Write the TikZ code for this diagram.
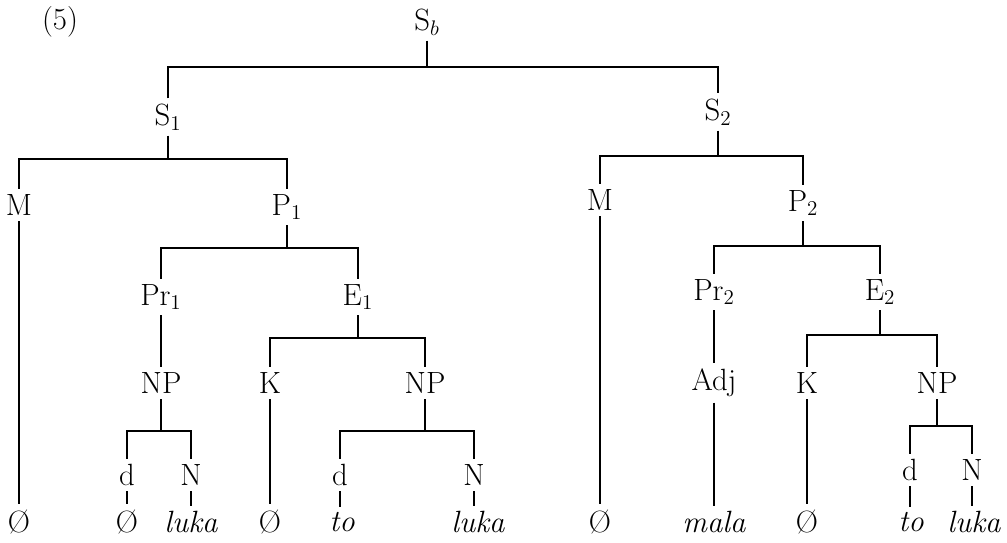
\documentclass[tikz,border=0pt]{standalone}
\usepackage{tikz}
\usetikzlibrary{positioning,calc}
\tikzset{
  cat/.style={inner sep=3pt,font=\fontsize{17.5}{20}\selectfont},
  word/.style={cat,font=\fontsize{17.5}{20}\selectfont\itshape},
  br/.style={line width=0.7pt}
}

\begin{document}
\begin{tikzpicture}[x=0.02cm,y=-0.02cm]
\useasboundingbox (0,0) rectangle (1007,542);
\node[cat] (num) at (60,22) {(5)};
% upper part
\node[cat] (Sb) at (427,22) {S$_b$};
\node[cat] (S1) at (168,117) {S$_1$};
\node[cat] (S2) at (718,112) {S$_2$};
\node[cat] (M1) at (19,205) {M};
\node[cat] (P1) at (287,207) {P$_1$};
\node[cat] (M2) at (600,200) {M};
\node[cat] (P2) at (803,203) {P$_2$};
\node[cat] (Pr1) at (161,297) {Pr$_1$};
\node[cat] (E1) at (358,297) {E$_1$};
\node[cat] (Pr2) at (714,292) {Pr$_2$};
\node[cat] (E2) at (880,292) {E$_2$};
% middle part
\node[cat] (NPa) at (161,383) {NP};
\node[cat] (K1) at (270,383) {K};
\node[cat] (NPb) at (425,383) {NP};
\node[cat] (Adj) at (714,383) {Adj};
\node[cat] (K2) at (807,383) {K};
\node[cat] (NPc) at (937,383) {NP};
\node[cat] (da) at (127,475) {d};
\node[cat] (Na) at (191,475) {N};
\node[cat] (db) at (340,475) {d};
\node[cat] (Nb) at (474,475) {N};
\node[cat] (dc) at (910,470) {d};
\node[cat] (Nc) at (972,470) {N};
% leaves
\node[cat] (z1) at (19,522) {Ø};
\node[cat] (z2) at (127,522) {Ø};
\node[word] (w1) at (191,522) {luka};
\node[cat] (z3) at (270,522) {Ø};
\node[word] (w2) at (342,522) {to};
\node[word] (w3) at (478,522) {luka};
\node[cat] (z4) at (600,522) {Ø};
\node[word] (w4) at (714,522) {mala};
\node[cat] (z5) at (807,522) {Ø};
\node[word] (w5) at (911,522) {to};
\node[word] (w6) at (974,522) {luka};

\coordinate (jSb) at (427,67);
\coordinate (jS1) at (168,159);
\coordinate (jS2) at (718,156);
\coordinate (jP1) at (287,248);
\coordinate (jP2) at (803,246);
\coordinate (jE1) at (358,338);
\coordinate (jE2) at (880,335);
\coordinate (jNPa) at (161,431);
\coordinate (jNPb) at (425,431);
\coordinate (jNPc) at (937,426);

\draw[br] (Sb) -- (jSb);
\draw[br] (S1) |- (jSb) -| (S2);
\draw[br] (S1) -- (jS1);
\draw[br] (M1) |- (jS1) -| (P1);
\draw[br] (S2) -- (jS2);
\draw[br] (M2) |- (jS2) -| (P2);
\draw[br] (P1) -- (jP1);
\draw[br] (Pr1) |- (jP1) -| (E1);
\draw[br] (P2) -- (jP2);
\draw[br] (Pr2) |- (jP2) -| (E2);
\draw[br] (E1) -- (jE1);
\draw[br] (K1) |- (jE1) -| (NPb);
\draw[br] (E2) -- (jE2);
\draw[br] (K2) |- (jE2) -| (NPc);
\draw[br] (Pr1) -- (NPa);
\draw[br] (Pr2) -- (Adj);
\draw[br] (NPa) -- (jNPa);
\draw[br] (da) |- (jNPa) -| (Na);
\draw[br] (NPb) -- (jNPb);
\draw[br] (db) |- (jNPb) -| (Nb);
\draw[br] (NPc) -- (jNPc);
\draw[br] (dc) |- (jNPc) -| (Nc);
\draw[br] (M1) -- (z1);
\draw[br] (da) -- (z2);
\draw[br] (Na) -- (w1);
\draw[br] (K1) -- (z3);
\draw[br] (db) -- (db |- w2.north);
\draw[br] (Nb) -- (Nb |- w3.north);
\draw[br] (M2) -- (z4);
\draw[br] (Adj) -- (w4);
\draw[br] (K2) -- (z5);
\draw[br] (dc) -- (dc |- w5.north);
\draw[br] (Nc) -- (Nc |- w6.north);
\end{tikzpicture}
\end{document}
